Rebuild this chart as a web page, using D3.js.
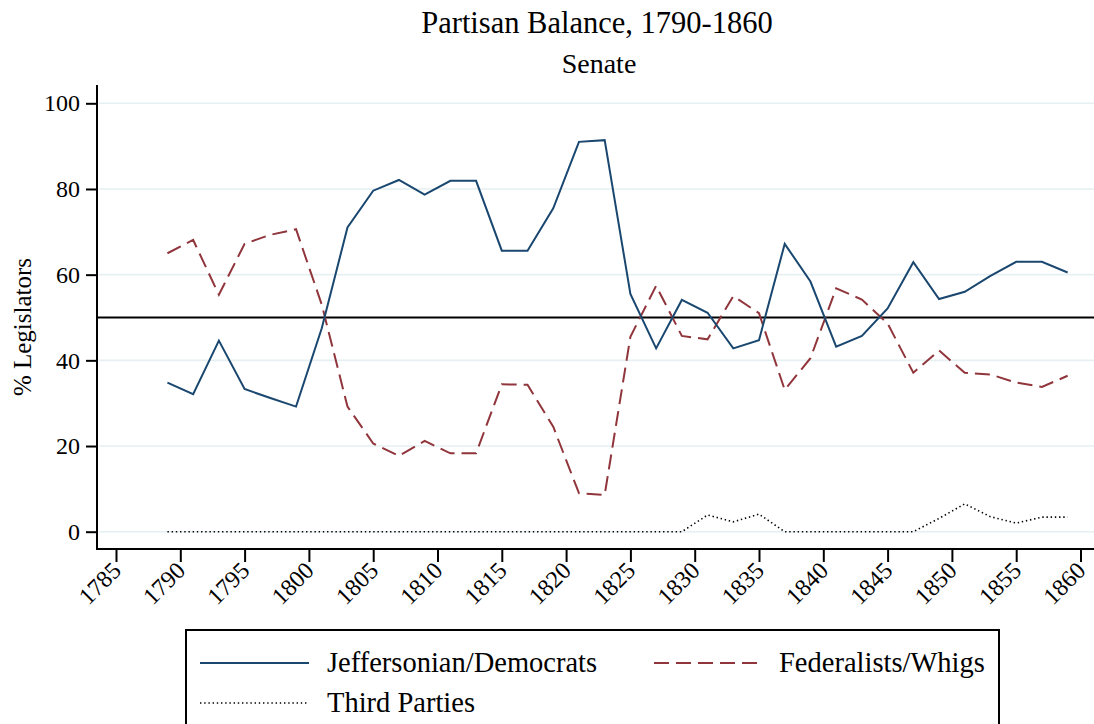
<!DOCTYPE html>
<html>
<head>
<meta charset="utf-8">
<title>Partisan Balance, 1790-1860</title>
<script src="https://cdn.jsdelivr.net/npm/d3@7"></script>
<style>
	html, body { margin: 0; padding: 0; background: #ffffff; }
	svg { display: block; font-family: "Liberation Serif", "Times New Roman", serif; }
	svg text { font-family: "Liberation Serif", "Times New Roman", serif; }
</style>
</head>
<body>
<svg id="chart" width="1094" height="724"></svg>
<script>
// --- Data ---
var years = [1789, 1791, 1793, 1795, 1797, 1799, 1801, 1803, 1805, 1807, 1809, 1811,
	1813, 1815, 1817, 1819, 1821, 1823, 1825, 1827, 1829, 1831, 1833, 1835,
	1837, 1839, 1841, 1843, 1845, 1847, 1849, 1851, 1853, 1855, 1857, 1859];

var democrats = [34.8, 32.1, 44.6, 33.3, 31.2, 29.2, 47.5, 71.0, 79.6, 82.1, 78.7, 81.9,
	81.9, 65.6, 65.6, 75.5, 91.0, 91.4, 55.5, 42.8, 54.1, 51.1, 42.8, 44.7,
	67.2, 58.4, 43.2, 45.7, 52.1, 62.9, 54.3, 56.0, 59.7, 63.0, 63.0, 60.5];

var federalists = [65.0, 68.1, 55.3, 67.2, 69.3, 70.6, 53.0, 29.2, 20.6, 17.7, 21.2, 18.3,
	18.3, 34.4, 34.3, 24.5, 9.0, 8.6, 45.5, 57.4, 45.7, 44.9, 55.0, 51.0,
	33.1, 40.5, 56.8, 54.2, 48.6, 37.1, 42.3, 37.1, 36.7, 34.8, 33.8, 36.4];

var thirdParties = [0, 0, 0, 0, 0, 0, 0, 0, 0, 0, 0, 0,
	0, 0, 0, 0, 0, 0, 0, 0, 0, 3.9, 2.3, 4.1,
	0, 0, 0, 0, 0, 0, 3.1, 6.5, 3.5, 2.0, 3.4, 3.4];

var xTicks = [1785, 1790, 1795, 1800, 1805, 1810, 1815, 1820, 1825, 1830, 1835, 1840, 1845, 1850, 1855, 1860];
var yTicks = [0, 20, 40, 60, 80, 100];
var seriesNames = ['Jeffersonian/Democrats', 'Federalists/Whigs', 'Third Parties'];

(function () {
	'use strict';

	var BLUE  = '#1a476f';
	var RED   = '#90353b';
	var GRID  = '#e6eff1';
	var SERIF = '"Liberation Serif", "Times New Roman", serif';
	var FONT  = 24;
	var DASH  = '15,7';
	var DOTS  = '1.4,2.8';

	// plot area, in page pixels
	var LEFT   = 97;
	var RIGHT  = 1094;
	var TOP    = 85;
	var BOTTOM = 549;

	var svg = d3.select('#chart');

	var x = d3.scaleLinear().domain([1785, 1860]).range([116, 1080.5]);
	var y = d3.scaleLinear().domain([0, 100]).range([531.7, 103.3]);

	// --- Titles ---
	svg.append('text')
		.attr('x', 597).attr('y', 33)
		.attr('text-anchor', 'middle')
		.style('font-size', '30.5px')
		.text('Partisan Balance, 1790-1860');

	svg.append('text')
		.attr('x', 599).attr('y', 73)
		.attr('text-anchor', 'middle')
		.style('font-size', '28px')
		.text('Senate');

	// --- Grid lines ---
	svg.append('g').selectAll('line')
		.data(yTicks)
		.enter()
		.append('line')
		.attr('x1', LEFT + 2).attr('x2', RIGHT)
		.attr('y1', function (d) { return y(d); })
		.attr('y2', function (d) { return y(d); })
		.attr('stroke', GRID)
		.attr('stroke-width', 1.6);

	// --- 50% reference line ---
	svg.append('line')
		.attr('x1', LEFT).attr('x2', RIGHT)
		.attr('y1', y(50)).attr('y2', y(50))
		.attr('stroke', '#000')
		.attr('stroke-width', 2);

	// --- Axes ---
	var yAxis = d3.axisLeft(y)
		.tickValues(yTicks)
		.tickSize(11)
		.tickPadding(6);

	var yg = svg.append('g')
		.attr('transform', 'translate(' + LEFT + ',0)')
		.call(yAxis)
		.attr('font-family', SERIF)
		.attr('font-size', FONT);
	yg.select('.domain').remove();
	yg.selectAll('.tick line').attr('stroke', '#000').attr('stroke-width', 2);
	yg.selectAll('.tick text').attr('fill', '#000');

	svg.append('line')
		.attr('x1', LEFT).attr('x2', LEFT)
		.attr('y1', TOP).attr('y2', BOTTOM + 1)
		.attr('stroke', '#000').attr('stroke-width', 2);

	var xAxis = d3.axisBottom(x)
		.tickValues(xTicks)
		.tickFormat(d3.format('d'))
		.tickSize(13);

	var xg = svg.append('g')
		.attr('transform', 'translate(0,' + BOTTOM + ')')
		.call(xAxis)
		.attr('font-family', SERIF)
		.attr('font-size', FONT);
	xg.select('.domain').remove();
	xg.selectAll('.tick line').attr('stroke', '#000').attr('stroke-width', 2);
	xg.selectAll('.tick text')
		.attr('fill', '#000')
		.attr('text-anchor', 'end')
		.attr('x', 0).attr('y', 0)
		.attr('dy', '0.35em')
		.attr('transform', 'translate(0,17) rotate(-45)');

	svg.append('line')
		.attr('x1', LEFT - 1).attr('x2', RIGHT)
		.attr('y1', BOTTOM).attr('y2', BOTTOM)
		.attr('stroke', '#000').attr('stroke-width', 2);

	svg.append('text')
		.attr('transform', 'translate(31,327) rotate(-90)')
		.attr('text-anchor', 'middle')
		.style('font-size', '25px')
		.text('% Legislators');

	// --- Series lines ---
	function lineFor(values) {
		return d3.line()
			.x(function (d, i) { return x(years[i]); })
			.y(function (d) { return y(d); })(values);
	}

	svg.append('path')
		.attr('d', lineFor(thirdParties))
		.attr('fill', 'none')
		.attr('stroke', '#000')
		.attr('stroke-width', 1.6)
		.attr('stroke-dasharray', DOTS);

	svg.append('path')
		.attr('d', lineFor(federalists))
		.attr('fill', 'none')
		.attr('stroke', RED)
		.attr('stroke-width', 2)
		.attr('stroke-dasharray', DASH);

	svg.append('path')
		.attr('d', lineFor(democrats))
		.attr('fill', 'none')
		.attr('stroke', BLUE)
		.attr('stroke-width', 2);

	// --- Legend ---
	var legend = svg.append('g');
	legend.append('rect')
		.attr('x', 186).attr('y', 630)
		.attr('width', 813).attr('height', 120)
		.attr('fill', '#fff')
		.attr('stroke', '#000')
		.attr('stroke-width', 2);

	var items = [
		{ name: seriesNames[0], color: BLUE,   dash: null, width: 2,   lx: 200, tx: 327, ty: 672 },
		{ name: seriesNames[1], color: RED,    dash: DASH, width: 2,   lx: 654, tx: 779, ty: 672 },
		{ name: seriesNames[2], color: '#000', dash: DOTS, width: 1.6, lx: 200, tx: 327, ty: 712 }
	];

	items.forEach(function (it) {
		legend.append('line')
			.attr('x1', it.lx).attr('x2', it.lx + 109)
			.attr('y1', it.ty - 9).attr('y2', it.ty - 9)
			.attr('stroke', it.color)
			.attr('stroke-width', it.width)
			.attr('stroke-dasharray', it.dash);
		legend.append('text')
			.attr('x', it.tx).attr('y', it.ty)
			.style('font-size', '28.5px')
			.text(it.name);
	});
})();
</script>
</body>
</html>
